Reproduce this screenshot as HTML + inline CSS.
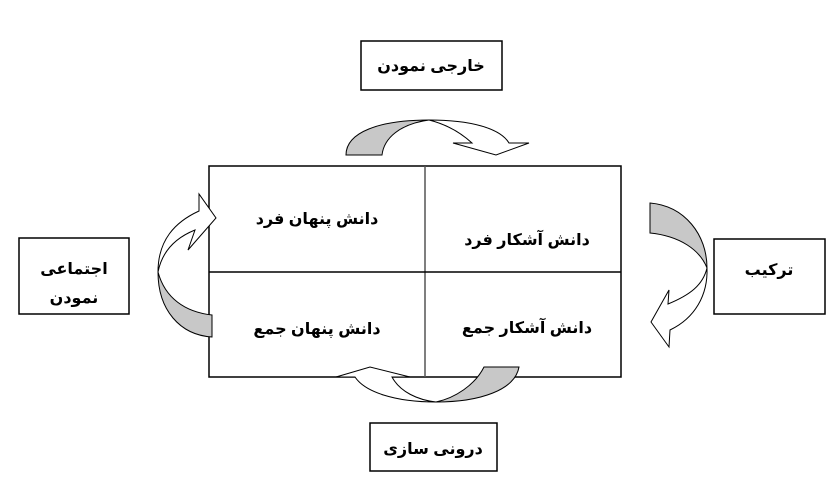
<!DOCTYPE html>
<html><head><meta charset="utf-8"><style>
body{margin:0;background:#fff;}
svg{display:block}
text{font-family:"Liberation Sans","DejaVu Sans",sans-serif;font-weight:bold;font-size:16px;fill:#000}
</style></head><body>
<svg width="834" height="484" viewBox="0 0 834 484">
<g fill="none" stroke="#000" stroke-width="1.5">
<rect x="209" y="166" width="412" height="211"/>
<line x1="425" y1="166" x2="425" y2="377" stroke="#555"/>
<line x1="209" y1="272" x2="621" y2="272"/>
<rect x="361" y="41" width="141" height="49"/>
<rect x="19" y="238" width="110" height="76"/>
<rect x="714" y="239" width="111" height="75"/>
<rect x="370" y="423" width="127" height="48"/>
</g>
<g stroke="#000" stroke-width="1">
<path d="M346,155 C346,132 380,120 429,120 C400,124 384,138 382,155 Z" fill="#c8c8c8"/>
<path d="M429,120 C470,120 500,128 509,143 L529,143 L496,155 L453,143 L472,143 C460,132 445,124 429,120 Z" fill="#fff"/>
<path d="M212,315 L212,337 C180,335 158,310 158,272 C165,298 185,312 212,315 Z" fill="#c8c8c8"/>
<path d="M158,272 C158,240 175,222 199,211 L199,194 L216,218 L188,250 L195,230 C175,238 162,252 158,272 Z" fill="#fff"/>
<path d="M650,203 L650,233 C680,236 700,250 707,268 C707,235 685,206 650,203 Z" fill="#c8c8c8"/>
<path d="M707,268 C708,295 695,318 670,330 L669,347 L651,322 L669,290 L668,304 C690,295 703,285 707,268 Z" fill="#fff"/>
<path d="M519,367 L484,367 C475,385 455,398 436,402 C480,402 515,390 519,367 Z" fill="#c8c8c8"/>
<path d="M436,402 C395,402 365,392 355,377 L336,377 L370,367 L410,377 L392,377 C400,392 418,400 436,402 Z" fill="#fff"/>
</g>
<g>
<text x="431" y="71" text-anchor="middle" direction="rtl">خارجی نمودن</text>
<text x="317" y="224" text-anchor="middle" direction="rtl">دانش پنهان فرد</text>
<text x="527" y="245" text-anchor="middle" direction="rtl">دانش آشکار فرد</text>
<text x="317" y="334" text-anchor="middle" direction="rtl">دانش پنهان جمع</text>
<text x="527" y="333" text-anchor="middle" direction="rtl">دانش آشکار جمع</text>
<text x="769" y="275" text-anchor="middle" direction="rtl">ترکیب</text>
<text x="74" y="274" text-anchor="middle" direction="rtl">اجتماعی</text>
<text x="74" y="303" text-anchor="middle" direction="rtl">نمودن</text>
<text x="433" y="454" text-anchor="middle" direction="rtl">درونی سازی</text>
</g>
</svg>
</body></html>
